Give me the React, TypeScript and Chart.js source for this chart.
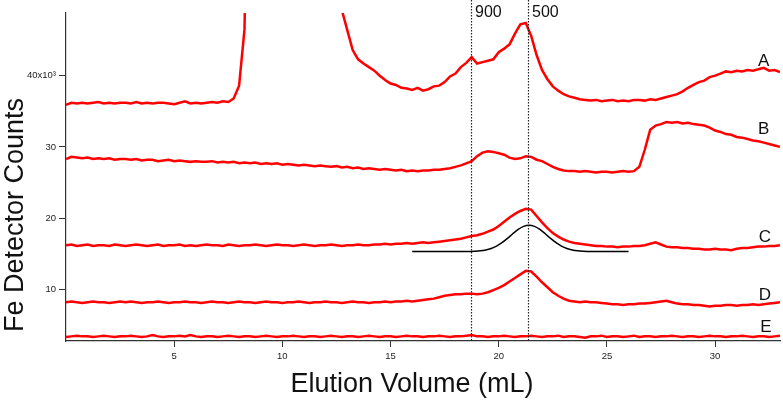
import { useEffect, useRef } from 'react';
import { Chart, registerables } from 'chart.js';

Chart.register(...registerables);

// Elution volume grid (mL)
const volumes = [
  0, 0.25, 0.5, 0.75, 1, 1.25, 1.5, 1.75, 2, 2.25, 2.5, 2.75,
  3, 3.25, 3.5, 3.75, 4, 4.25, 4.5, 4.75, 5, 5.25, 5.5, 5.75,
  6, 6.25, 6.5, 6.75, 7, 7.25, 7.5, 7.75, 8, 8.25, 8.5, 8.75,
  9, 9.25, 9.5, 9.75, 10, 10.25, 10.5, 10.75, 11, 11.25, 11.5, 11.75,
  12, 12.25, 12.5, 12.75, 13, 13.25, 13.5, 13.75, 14, 14.25, 14.5, 14.75,
  15, 15.25, 15.5, 15.75, 16, 16.25, 16.5, 16.75, 17, 17.25, 17.5, 17.75,
  18, 18.25, 18.5, 18.75, 19, 19.25, 19.5, 19.75, 20, 20.25, 20.5, 20.75,
  21, 21.25, 21.5, 21.75, 22, 22.25, 22.5, 22.75, 23, 23.25, 23.5, 23.75,
  24, 24.25, 24.5, 24.75, 25, 25.25, 25.5, 25.75, 26, 26.25, 26.5, 26.75,
  27, 27.25, 27.5, 27.75, 28, 28.25, 28.5, 28.75, 29, 29.25, 29.5, 29.75,
  30, 30.25, 30.5, 30.75, 31, 31.25, 31.5, 31.75, 32, 32.25, 32.5, 32.75, 33,
];

// Fe detector counts (x10^3)
const seriesA = [
  35.9, 36.2, 36.1, 36.2, 36.1, 36.2, 36.3, 36.1, 36.2, 36.1, 36.2, 36.2,
  36.1, 36.3, 36.1, 36.2, 36.1, 36.2, 36.2, 36.1, 36.0, 36.2, 36.4, 36.1,
  36.2, 36.1, 36.2, 36.3, 36.2, 36.4, 36.3, 36.8, 38.6, 46.5, 90, 90,
  90, 90, 90, 90, 90, 90, 90, 90, 90, 90, 90, 90,
  90, 90, 90, 49.2, 46.4, 43.6, 42.3, 41.7, 41.2, 40.7, 40.0, 39.4,
  38.9, 38.7, 38.3, 38.2, 38.0, 38.3, 37.9, 38.1, 38.5, 38.6, 39.1, 39.9,
  40.3, 41.2, 41.8, 42.6, 41.7, 41.9, 42.1, 42.3, 43.3, 43.8, 44.4, 45.9,
  47.2, 47.4, 45.6, 42.9, 40.8, 39.5, 38.5, 37.9, 37.4, 37.1, 36.9, 36.7,
  36.6, 36.5, 36.6, 36.4, 36.5, 36.6, 36.4, 36.5, 36.4, 36.6, 36.6, 36.5,
  36.7, 36.6, 36.8, 37.0, 37.2, 37.4, 37.8, 38.3, 38.7, 39.1, 39.3, 39.8,
  40.0, 40.3, 40.6, 40.5, 40.7, 40.6, 40.8, 40.7, 40.9, 41.1, 40.7, 40.8, 40.5,
];

const seriesB = [
  28.3, 28.6, 28.5, 28.4, 28.5, 28.3, 28.4, 28.3, 28.4, 28.2, 28.3, 28.3,
  28.2, 28.3, 28.1, 28.2, 28.2, 28.0, 28.1, 28.2, 28.0, 28.1, 28.0, 27.9,
  28.0, 27.9, 27.9, 28.0, 27.8, 27.9, 27.8, 27.9, 27.7, 27.8, 27.7, 27.8,
  27.6, 27.7, 27.6, 27.7, 27.5, 27.6, 27.5, 27.4, 27.5, 27.4, 27.3, 27.4,
  27.3, 27.2, 27.3, 27.1, 27.2, 27.0, 27.1, 26.9, 27.0, 26.9, 26.8, 26.9,
  26.8, 26.7, 26.8, 26.6, 26.7, 26.6, 26.7, 26.7, 26.8, 26.8, 26.9, 27.0,
  27.2, 27.4, 27.7, 28.0, 28.7, 29.2, 29.4, 29.3, 29.1, 28.9, 28.5, 28.3,
  28.4, 28.7, 28.6, 28.2, 28.0, 27.6, 27.2, 26.9, 26.7, 26.6, 26.6, 26.5,
  26.6, 26.5, 26.4, 26.5, 26.5, 26.4, 26.5, 26.6, 26.5, 26.6, 27.2, 29.6,
  32.4, 33.0, 33.2, 33.5, 33.4, 33.5, 33.3, 33.4, 33.2, 33.1, 33.0, 32.7,
  32.3, 32.1, 31.8, 31.7, 31.4, 31.3, 31.1, 30.9, 30.8, 30.6, 30.4, 30.2, 30.0,
];

const seriesC = [
  16.2, 16.3, 16.1, 16.2, 16.3, 16.1, 16.2, 16.2, 16.1, 16.3, 16.2, 16.1,
  16.2, 16.3, 16.2, 16.1, 16.2, 16.3, 16.1, 16.2, 16.2, 16.3, 16.1, 16.2,
  16.1, 16.2, 16.3, 16.2, 16.2, 16.1, 16.3, 16.2, 16.1, 16.2, 16.2, 16.3,
  16.2, 16.1, 16.2, 16.3, 16.2, 16.2, 16.1, 16.2, 16.3, 16.2, 16.1, 16.2,
  16.2, 16.3, 16.2, 16.1, 16.2, 16.2, 16.3, 16.2, 16.2, 16.3, 16.3, 16.4,
  16.3, 16.4, 16.4, 16.5, 16.4, 16.5, 16.6, 16.5, 16.6, 16.7, 16.8, 16.9,
  17.0, 17.1, 17.3, 17.5, 17.6, 17.8, 18.1, 18.4, 18.9, 19.5, 20.1, 20.6,
  21.0, 21.3, 21.2, 20.3, 19.4, 18.6, 17.9, 17.4, 17.0, 16.7, 16.5, 16.4,
  16.3, 16.2, 16.1, 16.1, 16.0, 16.0, 15.9, 16.0, 16.0, 16.1, 16.1, 16.2,
  16.4, 16.6, 16.3, 16.0, 15.9, 15.9, 15.8, 15.8, 15.7, 15.7, 15.6, 15.6,
  15.7, 15.6, 15.6, 15.5, 15.7, 15.8, 15.8, 15.9, 16.0, 16.0, 16.1, 16.1, 16.2,
];

const seriesD = [
  8.2, 8.3, 8.2, 8.1, 8.2, 8.3, 8.2, 8.2, 8.1, 8.2, 8.3, 8.2,
  8.3, 8.2, 8.1, 8.2, 8.2, 8.3, 8.2, 8.1, 8.2, 8.2, 8.3, 8.2,
  8.2, 8.1, 8.2, 8.3, 8.2, 8.2, 8.1, 8.2, 8.3, 8.2, 8.2, 8.1,
  8.2, 8.3, 8.2, 8.2, 8.1, 8.2, 8.2, 8.3, 8.2, 8.1, 8.2, 8.2,
  8.3, 8.2, 8.2, 8.1, 8.2, 8.3, 8.2, 8.2, 8.1, 8.2, 8.2, 8.3,
  8.2, 8.3, 8.3, 8.4, 8.3, 8.4, 8.5, 8.6, 8.7, 8.9, 9.1, 9.2,
  9.3, 9.3, 9.4, 9.4, 9.3, 9.4, 9.6, 9.9, 10.2, 10.6, 11.1, 11.6,
  12.1, 12.6, 12.5, 11.8, 11.0, 10.3, 9.6, 9.1, 8.7, 8.4, 8.3, 8.2,
  8.3, 8.2, 8.2, 8.1, 8.0, 7.9, 7.9, 7.8, 7.9, 7.9, 8.0, 8.0,
  8.1, 8.2, 8.3, 8.4, 8.2, 8.0, 7.9, 7.9, 7.8, 7.8, 7.7, 7.6,
  7.7, 7.7, 7.8, 7.8, 7.7, 7.8, 7.8, 7.9, 7.8, 7.9, 8.0, 8.1, 8.2,
];

const seriesE = [
  3.3, 3.4, 3.5, 3.4, 3.4, 3.3, 3.4, 3.5, 3.4, 3.3, 3.4, 3.4,
  3.5, 3.4, 3.3, 3.4, 3.6, 3.4, 3.3, 3.4, 3.4, 3.5, 3.4, 3.6,
  3.4, 3.3, 3.4, 3.4, 3.3, 3.4, 3.5, 3.4, 3.3, 3.4, 3.4, 3.3,
  3.4, 3.5, 3.4, 3.3, 3.4, 3.4, 3.5, 3.4, 3.3, 3.4, 3.4, 3.3,
  3.4, 3.5, 3.4, 3.3, 3.4, 3.4, 3.3, 3.4, 3.5, 3.4, 3.3, 3.4,
  3.4, 3.3, 3.4, 3.5, 3.4, 3.4, 3.3, 3.4, 3.4, 3.5, 3.4, 3.3,
  3.4, 3.4, 3.5, 3.6, 3.4, 3.4, 3.3, 3.4, 3.4, 3.5, 3.4, 3.3,
  3.4, 3.4, 3.5, 3.4, 3.3, 3.4, 3.4, 3.5, 3.3, 3.4, 3.4, 3.3,
  3.2, 3.4, 3.4, 3.5, 3.3, 3.4, 3.4, 3.3, 3.4, 3.5, 3.3, 3.4,
  3.4, 3.3, 3.4, 3.4, 3.5, 3.4, 3.3, 3.4, 3.4, 3.3, 3.4, 3.5,
  3.4, 3.4, 3.3, 3.4, 3.4, 3.5, 3.4, 3.3, 3.4, 3.4, 3.3, 3.4, 3.5,
];

// Black fitted peak under trace C
const fitVolumes = [
  16, 18.4, 18.65, 18.9, 19.15, 19.4, 19.65, 19.9, 20.15, 20.4, 20.65, 20.9, 21.15, 21.4,
  21.65, 21.9, 22.15, 22.4, 22.65, 22.9, 23.15, 23.4, 23.65, 23.9, 24.15, 24.4, 26,
];
const fitValues = [
  15.3, 15.3, 15.32, 15.35, 15.41, 15.53, 15.74, 16.08, 16.55, 17.15, 17.81, 18.41, 18.85, 19.0,
  18.85, 18.41, 17.81, 17.15, 16.55, 16.08, 15.74, 15.53, 15.41, 15.35, 15.32, 15.3, 15.3,
];

// Calibration markers
const markerVolumes = [18.72, 21.37];
const markerLabels = ['900', '500'];

// Trace labels
const traceNames = ['A', 'B', 'C', 'D', 'E'];
const traceLabelVolumes = [32.25, 32.25, 32.3, 32.3, 32.35];
const traceLabelValues = [42.0, 32.4, 17.3, 9.2, 4.7];

const xTickValues = [5, 10, 15, 20, 25, 30];
const yTickValues = [10, 20, 30, 40];

const FONT = "'Liberation Sans', Arial, sans-serif";

function toPoints(xs: number[], ys: number[]) {
  return xs.map((x, i) => ({ x, y: ys[i] }));
}

export default function App() {
  const ref = useRef<HTMLCanvasElement>(null);

  useEffect(() => {
    document.body.style.margin = '0';
    const canvas = ref.current;
    if (!canvas) return;

    const overlay = {
      id: 'overlay',
      afterDatasetsDraw(chart: any) {
        const { ctx, chartArea, scales } = chart;
        const xs = scales.x;
        const ys = scales.y;
        ctx.save();
        // dotted marker lines
        ctx.strokeStyle = '#222';
        ctx.lineWidth = 1.2;
        ctx.setLineDash([1.5, 1.5]);
        markerVolumes.forEach((v, i) => {
          const px = Math.round(xs.getPixelForValue(v)) + 0.5;
          ctx.beginPath();
          ctx.moveTo(px, 0);
          ctx.lineTo(px, chartArea.bottom);
          ctx.stroke();
          ctx.fillStyle = '#111';
          ctx.font = `16px ${FONT}`;
          ctx.textAlign = 'left';
          ctx.textBaseline = 'alphabetic';
          ctx.fillText(markerLabels[i], px + 3.5, 17);
        });
        ctx.setLineDash([]);
        // trace labels
        ctx.fillStyle = '#111';
        ctx.font = `17px ${FONT}`;
        ctx.textAlign = 'center';
        ctx.textBaseline = 'middle';
        traceNames.forEach((t, i) => {
          ctx.fillText(t, xs.getPixelForValue(traceLabelVolumes[i]), ys.getPixelForValue(traceLabelValues[i]));
        });
        // axis titles
        ctx.font = `27px ${FONT}`;
        ctx.textAlign = 'center';
        ctx.textBaseline = 'alphabetic';
        ctx.fillText('Elution Volume (mL)', 412, 391.5);
        ctx.translate(23, 215);
        ctx.rotate(-Math.PI / 2);
        ctx.fillText('Fe Detector Counts', 0, 0);
        ctx.restore();
      },
    };

    const red = 'rgb(255,0,0)';
    const mk = (label: string, ys: number[]) => ({
      label,
      data: toPoints(volumes, ys),
      borderColor: red,
      borderWidth: 2.5,
      pointRadius: 0,
      tension: 0,
      fill: false,
    });

    const chart = new Chart(canvas, {
      type: 'line',
      data: {
        datasets: [
          mk('A', seriesA),
          mk('B', seriesB),
          mk('C', seriesC),
          mk('D', seriesD),
          mk('E', seriesE),
          {
            label: 'fit',
            data: toPoints(fitVolumes, fitValues),
            borderColor: '#000',
            borderWidth: 1.5,
            pointRadius: 0,
            cubicInterpolationMode: 'monotone',
            fill: false,
          } as any,
        ],
      },
      options: {
        responsive: false,
        animation: false,
        parsing: true,
        layout: { padding: { top: 13, right: 3, left: 0, bottom: 0 } },
        plugins: { legend: { display: false }, tooltip: { enabled: false } },
        elements: { point: { radius: 0 } },
        scales: {
          x: {
            type: 'linear',
            min: 0,
            max: 33,
            afterBuildTicks: (s: any) => {
              s.ticks = xTickValues.map((v) => ({ value: v }));
            },
            afterFit: (s: any) => {
              s.height = 60;
            },
            grid: { display: true, drawOnChartArea: false, drawTicks: true, tickLength: 6, color: '#333', lineWidth: 1 },
            border: { display: true, color: '#333', width: 1.2 },
            ticks: { font: { family: FONT, size: 9.5 }, color: '#222', padding: 4, maxRotation: 0, autoSkip: false },
          },
          y: {
            type: 'linear',
            min: 2.75,
            max: 48.8,
            afterBuildTicks: (s: any) => {
              s.ticks = yTickValues.map((v) => ({ value: v }));
            },
            afterFit: (s: any) => {
              s.width = 66;
            },
            grid: { display: true, drawOnChartArea: false, drawTicks: true, tickLength: 7, color: '#333', lineWidth: 1 },
            border: { display: true, color: '#333', width: 1.2 },
            ticks: {
              font: { family: FONT, size: 9.5 },
              color: '#222',
              padding: 3,
              autoSkip: false,
              callback: (v: any) => (Number(v) === 40 ? '40x10\u00B3' : String(v)),
            },
          },
        },
      },
      plugins: [overlay],
    });

    return () => chart.destroy();
  }, []);

  return (
    <div style={{ width: 783, height: 401 }}>
      <canvas ref={ref} width={783} height={401} style={{ display: 'block' }} />
    </div>
  );
}
